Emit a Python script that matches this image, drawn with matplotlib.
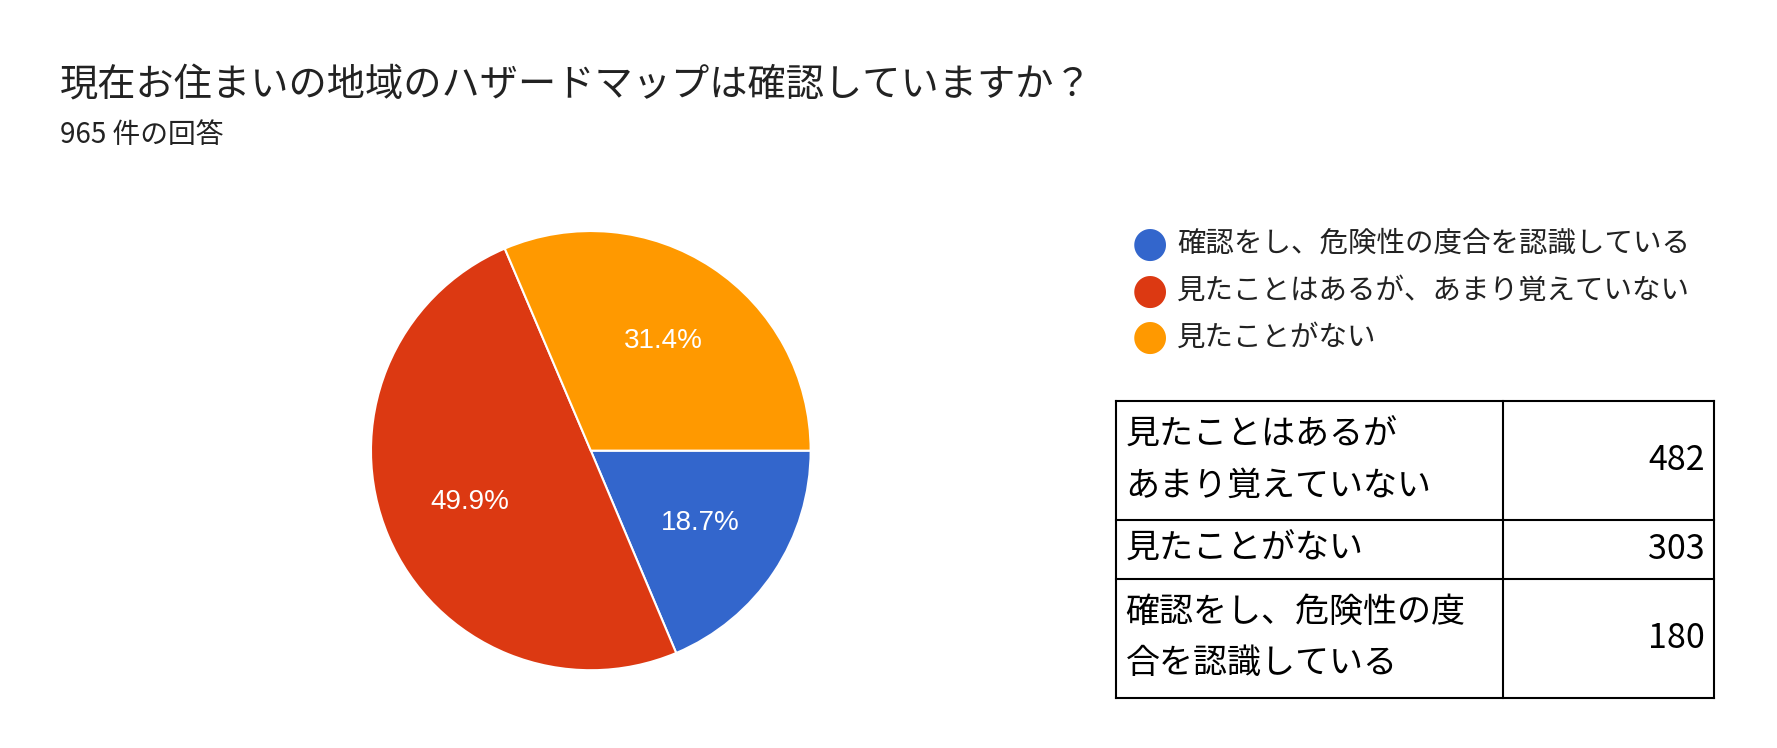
import matplotlib.pyplot as plt

plt.rcParams['font.family'] = ['Noto Sans CJK JP']

# data
labels = ['確認をし、危険性の度合を認識している', '見たことはあるが、あまり覚えていない', '見たことがない']
counts = [180, 482, 303]
colors = ['#3366cc', '#dc3912', '#ff9900']

table_labels = ['見たことはあるが\nあまり覚えていない', '見たことがない', '確認をし、危険性の度\n合を認識している']
table_values = [482, 303, 180]

W, H = 1552, 654  # reference layout units
fig = plt.figure(figsize=(17.77, 7.48), dpi=100)

def fx(x): return x / W
def fy(y): return 1 - y / H

fig.text(fx(52), fy(75), '現在お住まいの地域のハザードマップは確認していますか？',
         fontsize=27.5, va='center', color='#222222')
fig.text(fx(52), fy(118), '965 件の回答', fontsize=20, va='center', color='#222222')

# pie
cx, cy, r = 516, 394, 192
ax = fig.add_axes([fx(cx - r), fy(cy + r), 2 * r / W, 2 * r / H])
ax.pie(counts, colors=colors, startangle=0, counterclock=False,
       autopct='%1.1f%%', pctdistance=0.6,
       wedgeprops=dict(edgecolor='white', linewidth=1.5),
       textprops=dict(color='white', fontsize=20, family='Liberation Sans'))
ax.set_aspect('auto')
ax.set_xlim(-1, 1)
ax.set_ylim(-1, 1)
ax.axis('off')

# legend
for i, (lab, col) in enumerate(zip(labels, colors)):
    y = 213 + i * 41
    fig.text(fx(1004), fy(y), '●', color=col, fontsize=30, ha='center', va='center',
             family='DejaVu Sans')
    fig.text(fx(1028), fy(y), lab, fontsize=20.5, va='center', color='#222222')

# table
tax = fig.add_axes([0, 0, 1, 1])
tax.set_xlim(0, W)
tax.set_ylim(H, 0)
tax.axis('off')
x0, x1, x2 = 975, 1313, 1497
rows = [351, 455, 506, 610]
for y in rows:
    tax.plot([x0, x2], [y, y], color='black', lw=1.5)
for x in (x0, x1, x2):
    tax.plot([x, x], [rows[0], rows[-1]], color='black', lw=1.5)
for i, (lab, val) in enumerate(zip(table_labels, table_values)):
    ym = (rows[i] + rows[i + 1]) / 2
    tax.text(x0 + 8, ym, lab, fontsize=24.5, va='center', ha='left', linespacing=1.6)
    tax.text(x2 - 8, ym, str(val), fontsize=24.5, va='center', ha='right')

fig.savefig('out.png', dpi=100)
